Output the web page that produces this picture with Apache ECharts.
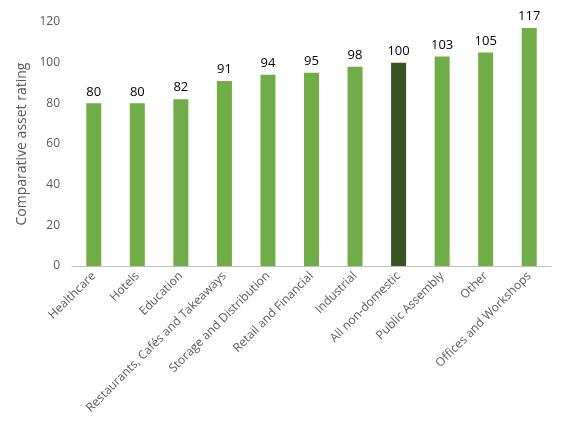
<!DOCTYPE html>
<html><head><meta charset="utf-8">
<script src="https://cdn.jsdelivr.net/npm/echarts@6/dist/echarts.min.js"></script>
<style>html,body{margin:0;padding:0;background:#fff}#c{width:561px;height:428px}</style>
</head><body><div id="c"></div>
<script>
const categories = ["Healthcare","Hotels","Education","Restaurants, Cafés and Takeaways","Storage and Distribution","Retail and Financial","Industrial","All non-domestic","Public Assembly","Other","Offices and Workshops"];
const values = [80,80,82,91,94,95,98,100,103,105,117];
const highlight = "All non-domestic";
const yTicks = {min:0,max:120,interval:20};
const chart = echarts.init(document.getElementById('c'));
const font = "'Open Sans', sans-serif";
chart.setOption({
  animation:false,
  grid:{left:72,right:10,top:22,bottom:162},
  xAxis:{type:'category',data:categories,
    axisLine:{lineStyle:{color:'#bfbfbf'}},axisTick:{show:false},
    axisLabel:{rotate:45,interval:0,color:'#595959',fontSize:12,fontFamily:font,margin:8}},
  yAxis:{type:'value',min:yTicks.min,max:yTicks.max,interval:yTicks.interval,
    name:'Comparative asset rating',nameLocation:'middle',nameGap:42,
    nameTextStyle:{color:'#595959',fontSize:14,fontFamily:font},
    splitLine:{show:false},axisLine:{show:false},axisTick:{show:false},
    axisLabel:{color:'#595959',fontSize:12,fontFamily:font,margin:12}},
  series:[{type:'bar',barWidth:15,
    data:values.map((v,i)=>({value:v,itemStyle:{color:categories[i]===highlight?'#375623':'#70ad47'}})),
    label:{show:true,position:'top',color:'#000',fontSize:13,fontFamily:font,distance:5}}]
});
</script></body></html>
